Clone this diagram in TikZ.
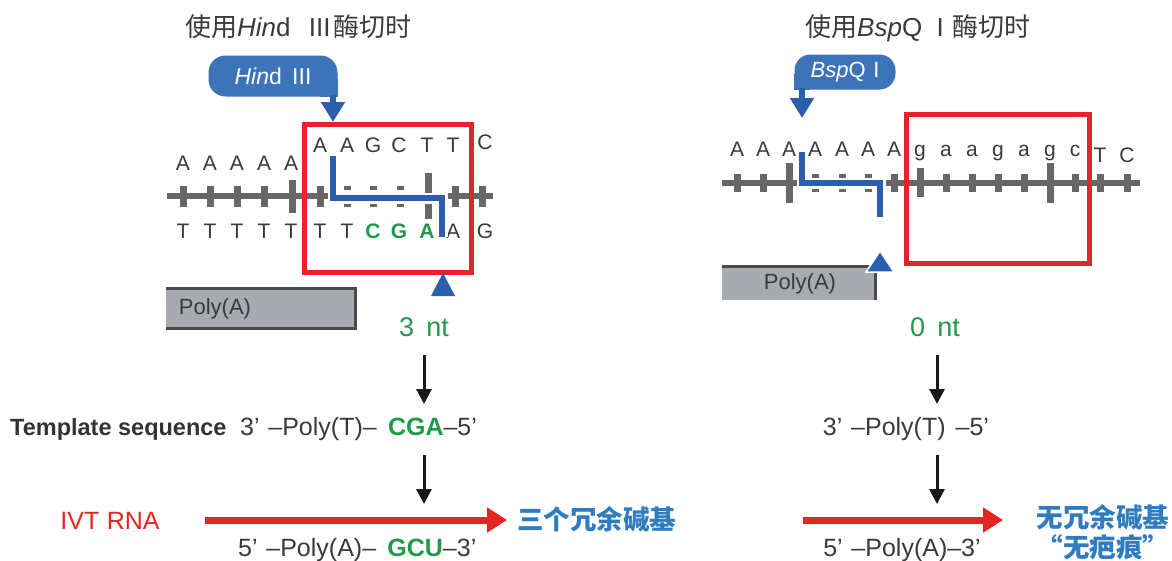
\documentclass[tikz,border=0pt]{standalone}
\usepackage{fontspec}
\setmainfont{Liberation Sans}
\newfontfamily\cjk{Noto Sans CJK SC}
\usetikzlibrary{arrows.meta}
\definecolor{txt}{HTML}{3A3A3A}
\definecolor{bbgray}{HTML}{666768}
\definecolor{bubblue}{HTML}{3C73B9}
\definecolor{cutblue}{HTML}{2B5EAB}
\definecolor{boxred}{HTML}{E3242B}
\definecolor{ntgreen}{HTML}{1F9A48}
\definecolor{polyfill}{HTML}{A7AAB0}
\definecolor{polyedge}{HTML}{4A4A4A}
\definecolor{labblue}{HTML}{2F7CC0}
\definecolor{arrred}{HTML}{E52521}
\tikzset{
  seq/.style={font=\fontsize{21}{24}\selectfont, text=txt, anchor=base, inner sep=0pt},
  gseq/.style={seq, text=ntgreen, font=\fontsize{21}{24}\selectfont\bfseries},
  titletext/.style={font=\fontsize{26}{30}\selectfont, text=txt, anchor=base west, inner sep=0pt},
  bubble/.style={fill=bubblue, rounded corners=17pt, text=white, inner sep=0pt,
    font=\fontsize{23}{26}\selectfont},
  stem/.style={draw=cutblue, line width=6pt, -{Triangle[width=23pt,length=20pt]}},
  backbone/.style={draw=bbgray, line width=6pt},
  cutline/.style={draw=cutblue, line width=6pt},
  cutwhite/.style={draw=white, line width=11pt},
  redbox/.style={draw=boxred, line width=5pt},
  polytext/.style={font=\fontsize{22}{26}\selectfont, text=txt, inner sep=0pt},
  ntlabel/.style={font=\fontsize{27}{30}\selectfont, text=ntgreen, inner sep=0pt},
  flow/.style={draw=black!90, line width=3pt, -{Triangle[width=15pt,length=15pt]}},
  redarrow/.style={draw=arrred, line width=7pt, -{Triangle[width=24pt,length=20pt]}},
  seqline/.style={font=\fontsize{25}{30}\selectfont, text=txt, inner sep=0pt},
  bluelab/.style={font=\cjk\fontsize{26.5}{30}\selectfont\bfseries, text=labblue, inner sep=0pt},
}
\newcommand{\pr}{’\hspace{0.35em}}
\begin{document}
\begin{tikzpicture}[x=1pt,y=-1pt]
\useasboundingbox (0,0) rectangle (1172,560);

% ---------------- titles ----------------
\node[titletext] (tl) at (185,36) {{\cjk 使用}\textit{Hin}d\hspace{0.7em}III\hspace{0.1em}{\cjk 酶切时}};
\node[titletext] (tr) at (805,36) {{\cjk 使用}\textit{Bsp}Q\hspace{0.55em}I\hspace{0.35em}{\cjk 酶切时}};

% ---------------- left panel ----------------
\draw[backbone] (167,196) -- (493,196);
\foreach \x in {183,210,237,264,320,455,482}
  \fill[bbgray] (\x-3.5,186) rectangle (\x+3.5,207);
\fill[bbgray] (292-3.5,180) rectangle (292+3.5,213);
\fill[bbgray] (428-3.5,173) rectangle (428+3.5,219);
\foreach \x in {347,373,400}{
  \fill[bbgray] (\x-3.5,186) rectangle (\x+3.5,190);
  \fill[bbgray] (\x-3.5,203) rectangle (\x+3.5,207);}

\foreach \x [count=\i] in {183,210,237,264,291}
  \node[seq] (lta\i) at (\x,170) {A};
\foreach \x/\c [count=\i] in {320/A,347/A,373/G,399/C,427/T,453/T}
  \node[seq] (ltb\i) at (\x,152) {\c};
\node[seq] (ltc) at (485,149) {C};
\foreach \x [count=\i] in {183,210,237,264,291,320,347}
  \node[seq] (lbt\i) at (\x,238) {T};
\foreach \x/\c [count=\i] in {373/C,399/G,427/A}
  \node[gseq] (lbg\i) at (\x,238) {\c};
\node[seq] (lba) at (453,238) {A};
\node[seq] (lbgg) at (485,238) {G};

\draw[cutwhite] (333,156) -- (333,198) -- (442,198) -- (442,237);
\draw[cutline] (333,156) -- (333,198) -- (442,198) -- (442,237);

\draw[redbox] (304,124) rectangle (471,272);

\node[bubble, minimum width=129pt, minimum height=41pt] (hb) at (273,76)
  {\textit{Hin}d\hspace{0.45em}III};
\fill[bubblue] (hb.south east) rectangle ++(-18,-18);
\coordinate (hbt) at (333,122);
\draw[stem] (hb.south -| hbt) ++(0,-2) -- (hbt);

\fill[cutblue] (443,273) -- (455,296) -- (431,296) -- cycle;

\fill[polyfill] (166,287) rectangle (357,330);
\draw[polyedge, line width=3pt] (166,288.5) -- (355.5,288.5) -- (355.5,328.5) -- (166,328.5);
\node[polytext] (pal) at (215,309) {Poly(A)};

\node[ntlabel] (ntl) at (424,327) {3\hspace{0.45em}nt};

\coordinate (fl1a) at (424,355);
\coordinate (fl1b) at (424,404);
\draw[flow] (fl1a) -- (fl1b);
\node[seqline, anchor=base west, font=\fontsize{23.5}{28}\selectfont\bfseries, text=black!80] (tsl) at (10,435) {Template sequence};
\node[seqline, anchor=base west] (tseq) at (240,435)
  {3\pr–Poly(T)–\hspace{0.45em}\textcolor{ntgreen}{\bfseries CGA}–5’};
\coordinate (fl2a) at (424,455);
\coordinate (fl2b) at (424,504);
\draw[flow] (fl2a) -- (fl2b);

\node[seqline, text=arrred] (ivt) at (110,521) {IVT\hspace{0.3em}RNA};
\coordinate (ra1) at (205,520);
\coordinate (rb1) at (507,520);
\draw[redarrow] (ra1) -- (rb1);
\node[bluelab, anchor=west] (lab1) at (517,519) {三个冗余碱基};
\node[seqline, anchor=base west] (rseq) at (238,556)
  {5\pr–Poly(A)–\hspace{0.45em}\textcolor{ntgreen}{\bfseries GCU}–3’};

% ---------------- right panel ----------------
\draw[backbone] (722,183) -- (1140,183);
\foreach \x in {737,763,894,946,972,998,1024,1075,1100,1127}
  \fill[bbgray] (\x-3.5,174) rectangle (\x+3.5,192);
\fill[bbgray] (789-3.5,163) rectangle (789+3.5,203);
\fill[bbgray] (1050-3.5,163) rectangle (1050+3.5,203);
\fill[bbgray] (920-3.5,168) rectangle (920+3.5,197);
\foreach \x in {815,842,868}{
  \fill[bbgray] (\x-3.5,174) rectangle (\x+3.5,178);
  \fill[bbgray] (\x-3.5,188) rectangle (\x+3.5,192);}

\foreach \x [count=\i] in {737,763,789,815,842,868,894}
  \node[seq] (rta\i) at (\x,156) {A};
\foreach \x/\c [count=\i] in {920/g,946/a,972/a,998/g,1024/a,1050/g,1075/c}
  \node[seq] (rtb\i) at (\x,156) {\c};
\node[seq] (rtt) at (1100,162) {T};
\node[seq] (rtc) at (1127,162) {C};

\draw[cutwhite] (802,152) -- (802,183) -- (880,183) -- (880,217);
\draw[cutline] (802,152) -- (802,183) -- (880,183) -- (880,217);

\draw[redbox] (906,114) rectangle (1089,263);

\node[bubble, minimum width=101pt, minimum height=35pt, rounded corners=16pt,
  font=\fontsize{22}{26}\selectfont] (bb) at (845,72) {\textit{Bsp}Q\hspace{0.35em}I};
\fill[bubblue] (bb.south west) rectangle ++(16,-16);
\coordinate (bbt) at (802,118);
\draw[stem] (bb.south -| bbt) ++(0,-2) -- (bbt);

\fill[polyfill] (722,265) rectangle (877,300);
\draw[polyedge, line width=3pt] (722,266.5) -- (875.5,266.5) -- (875.5,300);
\node[polytext] (par) at (800,284) {Poly(A)};

\filldraw[fill=cutblue, draw=white, line width=1.5pt] (880,251) -- (894,272) -- (866,272) -- cycle;

\node[ntlabel] (ntr) at (935,327) {0\hspace{0.45em}nt};

\coordinate (fr1a) at (937,355);
\coordinate (fr1b) at (937,404);
\draw[flow] (fr1a) -- (fr1b);
\node[seqline, anchor=base] (tseqr) at (906,435) {3\pr–Poly(T)\hspace{0.4em}–5’};
\coordinate (fr2a) at (937,455);
\coordinate (fr2b) at (937,504);
\draw[flow] (fr2a) -- (fr2b);

\coordinate (ra2) at (803,520);
\coordinate (rb2) at (1003,520);
\draw[redarrow] (ra2) -- (rb2);
\node[bluelab] (lab2) at (1103,517) {无冗余碱基};
\node[bluelab] (lab3) at (1103,547) {“无疤痕”};
\node[seqline, anchor=base] (rseqr) at (902,556) {5\pr–Poly(A)–3’};
\end{tikzpicture}
\end{document}
